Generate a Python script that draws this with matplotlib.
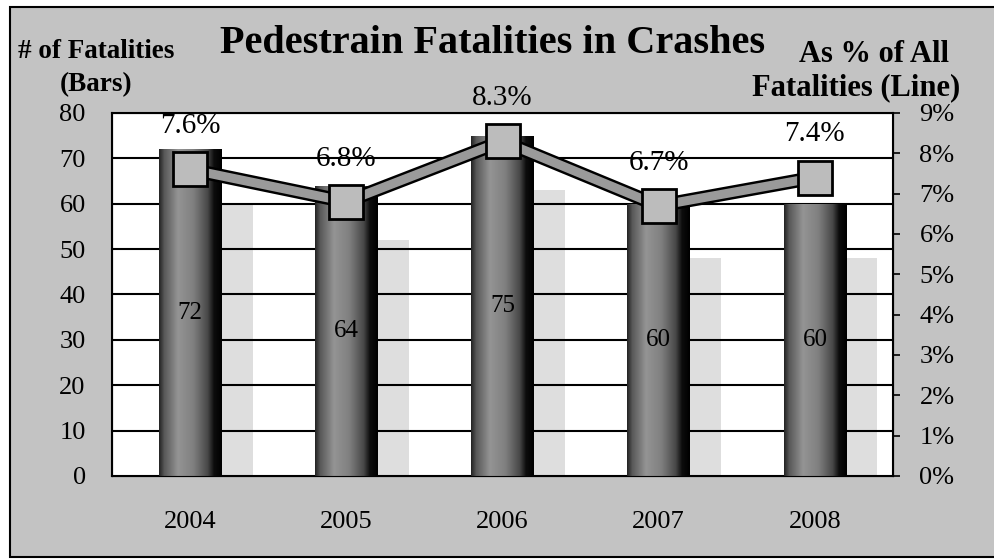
import numpy as np
import matplotlib
matplotlib.use("Agg")
import matplotlib.pyplot as plt
from matplotlib.patches import Rectangle

# chart data
years = ["2004", "2005", "2006", "2007", "2008"]
fatalities = [72, 64, 75, 60, 60]
pct_of_all = [7.6, 6.8, 8.3, 6.7, 7.4]
left_ticks = [0, 10, 20, 30, 40, 50, 60, 70, 80]
right_ticks = [0, 1, 2, 3, 4, 5, 6, 7, 8, 9]

plt.rcParams['font.family'] = ['Liberation Serif', 'DejaVu Serif']


def main():
    fig = plt.figure(figsize=(9.95, 5.59), dpi=100)
    fig.patch.set_facecolor('white')

    # gray panel behind everything, black frame on top/left/bottom (right side runs off the page)
    panel = Rectangle((10 / 995, 2 / 559), 1.2, 550 / 559, transform=fig.transFigure,
                      facecolor='#c3c3c3', edgecolor='black', linewidth=1.5, zorder=-10)
    fig.patches.append(panel)

    ax = fig.add_axes([0.1126, 0.1485, 0.7849, 0.6494])
    ax.set_facecolor('white')
    x = np.arange(len(years))
    w = 0.4

    ax.set_xlim(-0.5, len(years) - 0.5)
    ax.set_ylim(0, 80)

    # horizontal gridlines
    for t in left_ticks[1:-1]:
        ax.axhline(t, color='black', lw=1.5, zorder=2)

    # bar "shadows" to the right
    for xi, v in zip(x, fatalities):
        ax.add_patch(Rectangle((xi + w / 2, 0), 0.2, v - 12, facecolor='#dedede',
                               edgecolor='none', zorder=1))

    # gradient bars
    stops = [0.0, 0.08, 0.3, 0.55, 0.78, 0.88, 1.0]
    grays = [0.15, 0.35, 0.58, 0.5, 0.28, 0.05, 0.0]
    grad = np.interp(np.linspace(0, 1, 64), stops, grays).reshape(1, -1)
    bars = ax.bar(x, fatalities, width=w, color='#888888', zorder=3)
    for b in bars:
        x0, y0 = b.get_x(), b.get_y()
        im = ax.imshow(grad, cmap='gray', vmin=0, vmax=1, aspect='auto',
                       extent=[x0, x0 + b.get_width(), y0, y0 + b.get_height()],
                       zorder=3.5, interpolation='bilinear')
        im.set_clip_path(b)

    for xi, v in zip(x, fatalities):
        ax.text(xi, v / 2, str(v), ha='center', va='center', fontsize=18, zorder=5)

    ax.set_xticks(x)
    ax.set_xticklabels(years)
    ax.set_yticks(left_ticks)
    ax.tick_params(axis='x', length=0, pad=25, labelsize=19)
    ax.tick_params(axis='y', length=0, pad=19, labelsize=19)
    for s in ax.spines.values():
        s.set_linewidth(1.5)

    # percentage line on right axis
    ax2 = ax.twinx()
    ax2.set_ylim(0, 9)
    ax2.set_yticks(right_ticks)
    ax2.set_yticklabels([f"{t}%" for t in right_ticks])
    ax2.tick_params(axis='y', length=5, width=1.2, pad=14, labelsize=19)
    ax2.plot(x, pct_of_all, color='black', lw=10, solid_joinstyle='miter', zorder=6)
    ax2.plot(x, pct_of_all, color='#9a9a9a', lw=6.5, solid_joinstyle='miter', zorder=7)
    ax2.plot(x, pct_of_all, ls='none', marker='s', markersize=25, mfc='#bcbcbc',
             mec='black', mew=2, zorder=8)
    for xi, p in zip(x, pct_of_all):
        ax2.annotate(f"{p}%", (xi, p), xytext=(0, 31), textcoords='offset points',
                     ha='center', va='center', fontsize=21, zorder=9, annotation_clip=False)

    fig.text(0.495, 0.922, "Pedestrain Fatalities in Crashes", ha='center', va='center',
             fontsize=29, fontweight='bold')
    fig.text(0.097, 0.908, "# of Fatalities", ha='center', va='center', fontsize=19.5,
             fontweight='bold')
    fig.text(0.097, 0.848, "(Bars)", ha='center', va='center', fontsize=19.5,
             fontweight='bold')
    fig.text(0.878, 0.902, "As % of All", ha='center', va='center', fontsize=22,
             fontweight='bold')
    fig.text(0.860, 0.843, "Fatalities (Line)", ha='center', va='center', fontsize=22,
             fontweight='bold')

    fig.savefig("out.png", dpi=100)


if __name__ == "__main__":
    main()
